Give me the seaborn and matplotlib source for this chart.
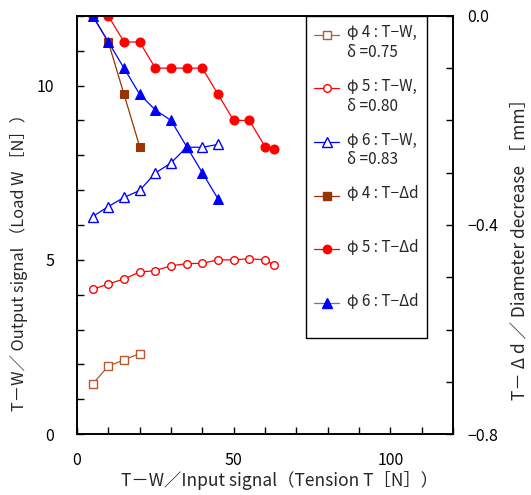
import matplotlib
matplotlib.use("Agg")
import matplotlib.pyplot as plt
from matplotlib.ticker import MultipleLocator, FixedLocator
from matplotlib.lines import Line2D
from matplotlib.legend_handler import HandlerLine2D
import seaborn as sns

# ---- data ----
t4 = [5, 10, 15, 20]
w4 = [1.44, 1.95, 2.13, 2.31]
d4 = [0.0, -0.05, -0.15, -0.25]

t5 = [5, 10, 15, 20, 25, 30, 35, 40, 45, 50, 55, 60, 63]
w5 = [4.15, 4.31, 4.45, 4.65, 4.69, 4.83, 4.89, 4.90, 5.00, 5.00, 5.03, 5.00, 4.85]
d5 = [0.0, 0.0, -0.05, -0.05, -0.10, -0.10, -0.10, -0.10, -0.15, -0.20, -0.20, -0.25, -0.255]

t6 = [5, 10, 15, 20, 25, 30, 35, 40, 45]
w6 = [6.24, 6.53, 6.79, 6.99, 7.49, 7.78, 8.23, 8.23, 8.31]
d6 = [0.0, -0.05, -0.10, -0.15, -0.18, -0.20, -0.25, -0.30, -0.35]

labels = ["φ 4 : T−W,\nδ =0.75", "φ 5 : T−W,\nδ =0.80", "φ 6 : T−W,\nδ =0.83",
          "φ 4 : T−Δd\n ", "φ 5 : T−Δd\n ", "φ 6 : T−Δd\n "]

xlabel = "T－W／Input signal（Tension T［N］）"
ylabel = "T－W／ Output signal （Load W ［N］）"
y2label = "T－ Δ d ／ Diameter decrease ［ mm］"

sns.set_theme(style="white")
plt.rcParams["font.family"] = ["Noto Sans CJK JP", "DejaVu Sans"]
plt.rcParams["font.size"] = 11
plt.rcParams["axes.unicode_minus"] = True

brown_o = "#b35a2e"
brown_f = "#993300"
red = "#ff0000"
blue = "#0000ff"

fig = plt.figure(figsize=(5.31, 4.95), dpi=100)
ax = fig.add_axes([0.145, 0.123, 0.708, 0.845])
ax2 = ax.twinx()

lw = 0.9
sns.lineplot(x=t4, y=w4, ax=ax, color=brown_o, marker="s", markersize=5.5,
             markerfacecolor="white", markeredgecolor=brown_o, markeredgewidth=1.0, linewidth=lw)
sns.lineplot(x=t5, y=w5, ax=ax, color=red, marker="o", markersize=5.5,
             markerfacecolor="white", markeredgecolor=red, markeredgewidth=1.0, linewidth=lw)
sns.lineplot(x=t6, y=w6, ax=ax, color=blue, marker="^", markersize=7,
             markerfacecolor="white", markeredgecolor=blue, markeredgewidth=1.0, linewidth=lw)

sns.lineplot(x=t4, y=d4, ax=ax2, color=brown_f, marker="s", markersize=5.5,
             markerfacecolor=brown_f, markeredgecolor=brown_f, linewidth=lw)
sns.lineplot(x=t5, y=d5, ax=ax2, color=red, marker="o", markersize=6.5,
             markerfacecolor=red, markeredgecolor=red, linewidth=lw)
sns.lineplot(x=t6, y=d6, ax=ax2, color=blue, marker="^", markersize=7.5,
             markerfacecolor=blue, markeredgecolor=blue, linewidth=lw)

ax.set_xlim(0, 120)
ax.set_ylim(0, 12)
ax2.set_ylim(-0.8, 0.0)

ax.xaxis.set_major_locator(FixedLocator([0, 50, 100]))
ax.xaxis.set_minor_locator(MultipleLocator(10))
ax.yaxis.set_major_locator(FixedLocator([0, 5, 10]))
ax.yaxis.set_minor_locator(MultipleLocator(1))
ax2.yaxis.set_major_locator(FixedLocator([-0.8, -0.4, 0.0]))
ax2.yaxis.set_minor_locator(MultipleLocator(0.1))
ax2.set_yticklabels(["−0.8", "−0.4", "0.0"])

for a in (ax, ax2):
    for s in a.spines.values():
        s.set_color("black")
        s.set_linewidth(1.2)
ax.tick_params(axis="x", which="both", direction="in", length=5, width=1, bottom=True, top=False,
               labelsize=11.5, pad=13, colors="black")
ax.tick_params(axis="y", which="both", direction="in", length=5, width=1, left=True, right=False,
               labelsize=11.5, pad=16.5, colors="black")
ax2.tick_params(axis="y", which="both", direction="in", length=5, width=1, right=True, left=False,
                labelsize=11.5, pad=10.5, colors="black")

ax.set_xlabel(xlabel, fontsize=12.5, labelpad=1)
ax.xaxis.label.set_x(0.54)
ax.set_ylabel(ylabel, fontsize=11.8, labelpad=6)
ax.yaxis.label.set_y(0.42)
ax2.set_ylabel(y2label, fontsize=12.5, labelpad=9)
ax2.yaxis.label.set_y(0.452)


class TopHandler(HandlerLine2D):
    def create_artists(self, legend, orig_handle, xdescent, ydescent, width, height, fontsize, trans):
        shift = 0.6 * fontsize
        return super().create_artists(legend, orig_handle, xdescent, ydescent - 2 * shift,
                                      width, height, fontsize, trans)


handles = [
    Line2D([], [], color=brown_o, marker="s", markersize=5.5, markerfacecolor="white", lw=lw),
    Line2D([], [], color=red, marker="o", markersize=5.5, markerfacecolor="white", lw=lw),
    Line2D([], [], color=blue, marker="^", markersize=6.5, markerfacecolor="white", lw=lw),
    Line2D([], [], color=brown_f, marker="s", markersize=5.5, markerfacecolor=brown_f, lw=lw),
    Line2D([], [], color=red, marker="o", markersize=6, markerfacecolor=red, lw=lw),
    Line2D([], [], color="#6666ff", marker="^", markersize=7, markerfacecolor=blue,
           markeredgecolor=blue, lw=lw),
]
hm = {h: TopHandler() for h in handles}
leg = ax2.legend(handles, labels, handler_map=hm, loc="upper left",
                 bbox_to_anchor=((306 - 77) / 376, 1.0), borderaxespad=0,
                 frameon=True, fancybox=False, framealpha=1, edgecolor="black",
                 fontsize=11, labelspacing=1.12, handlelength=1.6, handletextpad=0.55,
                 borderpad=0.55)
leg.get_frame().set_linewidth(1.0)

fig.savefig("out.png", dpi=100)
